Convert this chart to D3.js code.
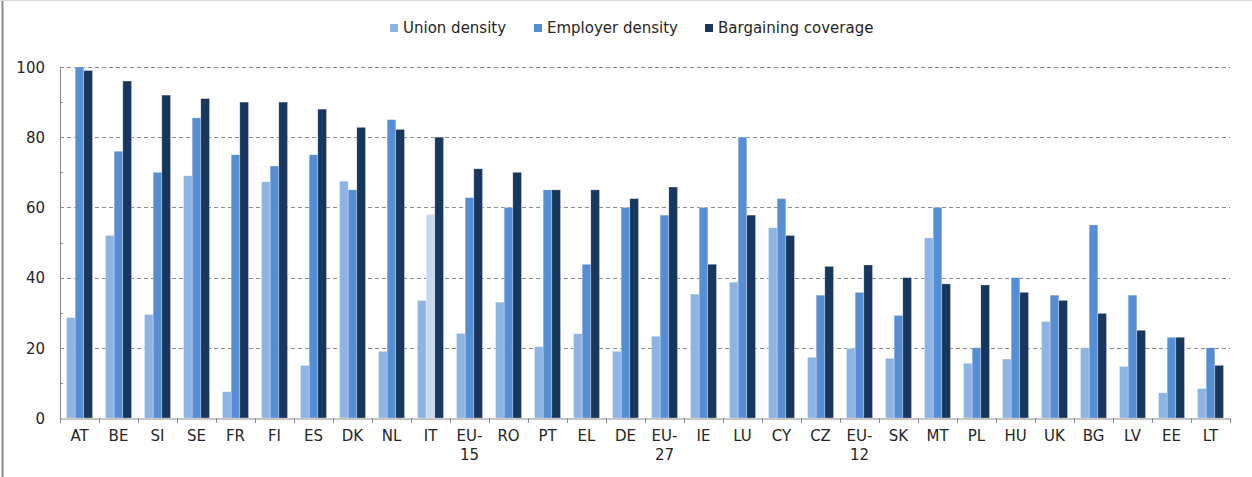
<!DOCTYPE html>
<html lang="en">
<head>
<meta charset="UTF-8">
<title>Union density, employer density and bargaining coverage</title>
<script src="https://d3js.org/d3.v7.min.js"></script>
<style>
  body { margin: 0; background: #fff; }
  svg { display: block; font-family: "DejaVu Sans", Verdana, sans-serif; }
</style>
</head>
<body>
<svg width="1252" height="477"></svg>
<script>
  // categories (a "-" means the label wraps onto two lines)
  var countries = ["AT","BE","SI","SE","FR","FI","ES","DK","NL","IT","EU-15","RO","PT","EL","DE",
                   "EU-27","IE","LU","CY","CZ","EU-12","SK","MT","PL","HU","UK","BG","LV","EE","LT"];
  var seriesNames = ["Union density", "Employer density", "Bargaining coverage"];
  var unionDensity = [28.6, 52, 29.5, 69, 7.5, 67.3, 15, 67.5, 19, 33.5, 24.1, 33, 20.3, 24, 19,
                      23.3, 35.3, 38.7, 54.2, 17.3, 19.8, 17, 51.3, 15.6, 16.8, 27.5, 20, 14.7, 7.2, 8.4];
  var employerDensity = [100, 76, 70, 85.5, 75, 71.8, 75, 65, 85, 58, 62.8, 60, 65, 43.8, 60,
                         57.8, 60, 80, 62.5, 35, 35.8, 29.2, 60, 20, 40, 35, 55, 35, 23, 20];
  var bargainingCoverage = [99, 96, 92, 91, 90, 90, 88, 82.8, 82.2, 80, 71, 70, 65, 65, 62.5,
                            65.8, 43.8, 57.8, 52, 43.2, 43.6, 40, 38.2, 37.9, 35.8, 33.5, 29.8, 25, 23, 15];
  var yTicks = [0, 20, 40, 60, 80, 100];
  var yMinor = [10, 30, 50, 70, 90];

  var colors = ["#8eb4e3", "#558ed5", "#17375e"];
  var estimatedColor = "#c6d9f1"; // IT employer density is drawn lighter

  var svg = d3.select("svg");
  var margin = { left: 60, right: 22, top: 67, bottom: 59 };
  var W = 1252, H = 477;

  // frame of the chart area
  svg.append("line").attr("x1", 2.5).attr("x2", 2.5).attr("y1", 0).attr("y2", H)
    .attr("stroke", "#8c8c8c").attr("stroke-width", 2);
  svg.append("line").attr("x1", 0).attr("x2", W).attr("y1", 0.5).attr("y2", 0.5)
    .attr("stroke", "#d9d9d9");

  var x0 = d3.scaleBand().domain(countries)
      .range([margin.left, W - margin.right]).paddingInner(1/3).paddingOuter(1/6);
  var x1 = d3.scaleBand().domain(d3.range(3)).range([0, x0.bandwidth()]);
  var y = d3.scaleLinear().domain([0, 100]).range([H - margin.bottom, margin.top]);

  // dashed gridlines
  svg.append("g").selectAll("line").data(yTicks.filter(function(d) { return d > 0; }))
    .join("line")
      .attr("x1", margin.left).attr("x2", W - margin.right)
      .attr("y1", function(d) { return Math.round(y(d)) + 0.5; })
      .attr("y2", function(d) { return Math.round(y(d)) + 0.5; })
      .attr("stroke", "#8c8c8c").attr("stroke-dasharray", "4,3");

  // bars
  var series = [unionDensity, employerDensity, bargainingCoverage];
  var rows = [];
  countries.forEach(function(c, i) {
    series.forEach(function(s, k) { rows.push({ c: c, k: k, v: s[i] }); });
  });
  svg.append("g").selectAll("rect").data(rows).join("rect")
    .attr("x", function(d) { return x0(d.c) + x1(d.k); })
    .attr("width", x1.bandwidth())
    .attr("y", function(d) { return y(d.v); })
    .attr("height", function(d) { return y(0) - y(d.v); })
    .attr("fill", function(d) { return (d.c === "IT" && d.k === 1) ? estimatedColor : colors[d.k]; })
    .attr("stroke", "#ffffff").attr("stroke-opacity", 0.45).attr("stroke-width", 0.6);

  // y axis
  var yAxis = svg.append("g").attr("transform", "translate(" + margin.left + ",0)")
    .call(d3.axisLeft(y).tickValues(yTicks).tickSize(0).tickPadding(15));
  yAxis.attr("font-size", null).attr("font-family", null);
  yAxis.select(".domain").attr("stroke", "#8c8c8c");
  yAxis.selectAll(".tick text").attr("dy", "0.35em")
    .style("font-size", "15px").attr("fill", "#262626");
  svg.append("g").selectAll("line").data(yMinor).join("line")
    .attr("x1", margin.left).attr("x2", margin.left + 3)
    .attr("y1", function(d) { return Math.round(y(d)) + 0.5; })
    .attr("y2", function(d) { return Math.round(y(d)) + 0.5; })
    .attr("stroke", "#8c8c8c");

  // x axis
  var xAxis = svg.append("g").attr("transform", "translate(0," + (Math.round(y(0)) + 0.5) + ")")
    .call(d3.axisBottom(x0).tickSize(0).tickPadding(13));
  xAxis.attr("font-size", null).attr("font-family", null);
  xAxis.select(".domain").attr("stroke", "#8c8c8c");
  xAxis.selectAll(".tick text").style("font-size", "15px").attr("fill", "#262626")
    .each(function(d) {
      var t = d3.select(this);
      var cut = d.indexOf("-");
      var parts = cut > 0 ? [d.slice(0, cut + 1), d.slice(cut + 1)] : [d];
      t.text(null);
      parts.forEach(function(p, i) {
        t.append("tspan").attr("x", 0).attr("dy", i === 0 ? "0.65em" : "1.25em").text(p);
      });
    });
  // tick marks between categories
  var step = x0.step();
  svg.append("g").selectAll("line").data(d3.range(countries.length + 1)).join("line")
    .attr("x1", function(i) { return Math.round(margin.left + i * step) + 0.5; })
    .attr("x2", function(i) { return Math.round(margin.left + i * step) + 0.5; })
    .attr("y1", Math.round(y(0))).attr("y2", Math.round(y(0)) + 5)
    .attr("stroke", "#8c8c8c");

  // legend
  var legendX = [390, 534, 705];
  var legend = svg.append("g").selectAll("g").data(seriesNames).join("g")
    .attr("transform", function(d, i) { return "translate(" + legendX[i] + ",28)"; });
  legend.append("rect").attr("x", 0).attr("y", -4).attr("width", 8).attr("height", 8)
    .attr("fill", function(d, i) { return colors[i]; });
  legend.append("text").attr("x", 13).attr("dy", "0.35em")
    .style("font-size", "15px").attr("fill", "#262626").text(function(d) { return d; });
</script>
</body>
</html>
